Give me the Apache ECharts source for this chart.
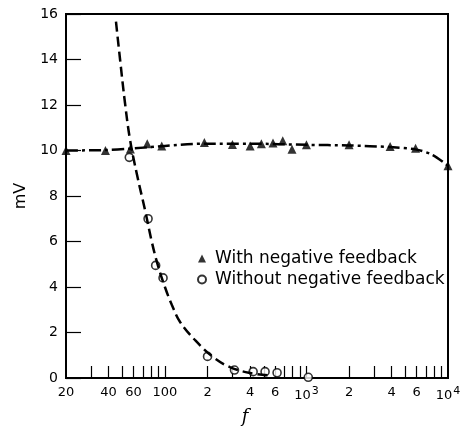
<!DOCTYPE html>
<html lang="en">
<head>
    <meta charset="UTF-8">
    <title>mV vs f</title>
    <style>
        * { margin: 0; padding: 0; }
        html, body { width: 100%; height: 100%; background: #fff; }
    </style>
    <script src="https://cdn.jsdelivr.net/npm/echarts@6/dist/echarts.min.js"></script>
</head>
<body>
<div id="main" style="width: 475px;height: 434px;"></div>
<script>
    // measured points (f in Hz, value in mV)
    var withF = [20, 38, 57, 75, 95, 190, 300, 400, 480, 580, 680, 790, 1000, 2000, 3900, 5900, 10000];
    var withV = [10.0, 10.0, 10.07, 10.3, 10.2, 10.35, 10.26, 10.2, 10.3, 10.33, 10.43, 10.06, 10.25, 10.25, 10.18, 10.1, 9.33];
    var withoutF = [56, 76, 86, 97, 200, 310, 420, 510, 620, 1030];
    var withoutV = [9.7, 7.0, 4.95, 4.4, 0.95, 0.35, 0.28, 0.28, 0.23, 0.03];

    // hand-drawn curves through the points
    var withFitF = [20, 38, 57, 100, 190, 400, 1000, 2000, 3900, 5900, 7800, 10000];
    var withFitV = [10.0, 10.02, 10.08, 10.2, 10.3, 10.3, 10.25, 10.22, 10.15, 10.05, 9.8, 9.33];
    var withoutFitF = [45.1, 48.2, 52.2, 56.7, 63.5, 72.3, 81.1, 89.4, 100, 112, 128, 163, 219, 288, 400, 553];
    var withoutFitV = [15.66, 14.0, 12.1, 10.47, 8.93, 7.39, 5.94, 4.93, 4.0, 3.21, 2.46, 1.67, 0.92, 0.48, 0.22, 0.11];

    // axis ticks
    var xLabelF = [20, 40, 60, 100, 200, 400, 600, 1000, 2000, 4000, 6000, 10000];
    var xLabelText = ['20', '40', '60', '100', '2', '4', '6', '10{s|3}', '2', '4', '6', '10{s|4}'];
    var xTickF = [30, 40, 50, 60, 70, 80, 90, 100, 200, 300, 400, 500, 600, 700, 800, 900,
        1000, 2000, 3000, 4000, 5000, 6000, 7000, 8000, 9000];

    var lg = Math.log10;
    function pts(fs, vs) {
        return fs.map(function (f, i) { return [lg(f), vs[i]]; });
    }
    var labelVals = xLabelF.map(lg);

    var myChart = echarts.init(document.getElementById('main'));
    var font = 'DejaVu Sans';

    var option = {
        animation: false,
        grid: {
            left: 66, right: 27, top: 14, bottom: 56,
            show: true, borderColor: '#000', borderWidth: 2
        },
        legend: {
            left: 192, top: 245, orient: 'vertical',
            itemWidth: 8, itemHeight: 8, itemGap: 4,
            textStyle: { fontFamily: font, fontSize: 17, color: '#000', padding: [0, 0, 0, 4] },
            data: [
                { name: 'With negative feedback', icon: 'triangle' },
                { name: 'Without negative feedback', icon: 'circle' }
            ]
        },
        xAxis: {
            type: 'value',
            min: lg(20), max: 4,
            name: 'f', nameLocation: 'middle', nameGap: 30,
            nameTextStyle: { fontFamily: 'DejaVu Serif', fontStyle: 'italic', fontSize: 18, color: '#000', padding: [0, 24, 0, 0] },
            axisLine: { lineStyle: { color: '#000', width: 2 } },
            axisTick: { inside: true, length: 12, lineStyle: { color: '#000', width: 1.2 }, customValues: xTickF.map(lg) },
            axisLabel: {
                customValues: labelVals,
                fontFamily: font, fontSize: 13, color: '#000', margin: 8,
                formatter: function (v) {
                    for (var i = 0; i < labelVals.length; i++) {
                        if (Math.abs(labelVals[i] - v) < 1e-6) return xLabelText[i];
                    }
                    return '';
                },
                rich: { s: { fontFamily: font, fontSize: 11, verticalAlign: 'bottom', padding: [0, 0, 8, 1], color: '#000' } }
            },
            splitLine: { show: false }
        },
        yAxis: {
            type: 'value',
            min: 0, max: 16, interval: 2,
            name: 'mV', nameLocation: 'middle', nameGap: 36, nameRotate: 90,
            nameTextStyle: { fontFamily: font, fontSize: 16, color: '#000' },
            axisLine: { show: true, lineStyle: { color: '#000', width: 2 } },
            axisTick: { inside: true, length: 15, lineStyle: { color: '#000', width: 1.2 } },
            axisLabel: { fontFamily: font, fontSize: 14, color: '#000', margin: 8 },
            splitLine: { show: false }
        },
        series: [
            {
                name: 'withFit', type: 'line', data: pts(withFitF, withFitV),
                smooth: 0.3, symbol: 'none', silent: true,
                lineStyle: { color: '#000', width: 2.5, type: [12, 4, 3, 4] }
            },
            {
                name: 'withoutFit', type: 'line', data: pts(withoutFitF, withoutFitV),
                smooth: 0.4, symbol: 'none', silent: true,
                lineStyle: { color: '#000', width: 2.5, type: [10, 5] }
            },
            {
                name: 'With negative feedback', type: 'scatter', data: pts(withF, withV),
                symbol: 'triangle', symbolSize: 9,
                itemStyle: { color: '#000' }
            },
            {
                name: 'Without negative feedback', type: 'scatter', data: pts(withoutF, withoutV),
                symbol: 'circle', symbolSize: 8,
                itemStyle: { color: '#fff', borderColor: '#000', borderWidth: 1.6 }
            }
        ]
    };
    myChart.setOption(option);
</script>
</body>
</html>
